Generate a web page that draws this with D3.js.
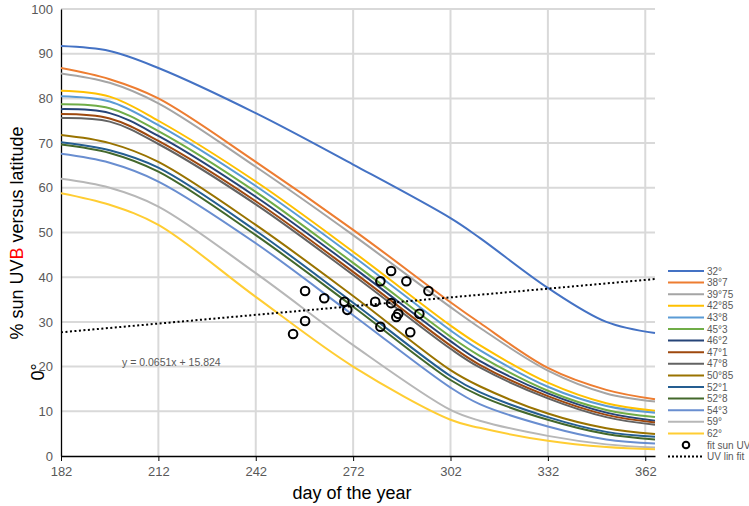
<!DOCTYPE html>
<html><head><meta charset="utf-8">
<script src="https://cdn.jsdelivr.net/npm/d3@7"></script>
<style>body{margin:0;background:#fff}svg{display:block}</style>
</head><body>
<svg id="c" width="749" height="506"></svg>
<script>
// ---- data ----
const days = [182, 197, 212, 242, 272, 302, 311, 332, 350, 365];
const lat32   = [91.7, 90.6, 86.8, 76.7, 65.2, 53.2, 48.8, 37.6, 30.0, 27.5];
const lat38_7 = [86.8, 84.3, 80.0, 65.8, 50.6, 34.4, 29.8, 19.7, 14.8, 12.7];
const lat39_75= [85.6, 83.5, 78.9, 64.7, 49.4, 33.3, 28.7, 19.1, 14.0, 12.2];
const lat42_85= [81.7, 80.4, 75.0, 61.4, 45.7, 29.2, 24.8, 16.4, 11.8, 10.1];
const lat43_8 = [80.5, 79.3, 74.0, 60.4, 44.7, 28.1, 23.7, 15.5, 11.2, 9.7];
const lat45_3 = [78.7, 77.8, 72.7, 59.1, 43.2, 26.7, 22.4, 14.6, 10.3, 8.7];
const lat46_2 = [77.6, 76.7, 71.6, 58.0, 42.2, 25.7, 21.3, 14.0, 9.7, 7.9];
const lat47_1 = [76.5, 75.5, 70.5, 57.0, 41.2, 24.7, 20.4, 13.4, 9.2, 7.5];
const lat47_8 = [75.6, 74.8, 69.8, 56.3, 40.5, 24.0, 19.8, 12.9, 8.7, 7.0];
const lat50_85= [71.8, 70.0, 65.8, 51.7, 35.8, 19.2, 15.6, 9.5, 6.2, 4.9];
const lat52_1 = [70.2, 68.4, 64.5, 50.4, 34.3, 17.9, 14.3, 8.7, 5.4, 4.3];
const lat52_8 = [69.7, 67.8, 63.6, 49.4, 33.4, 17.0, 13.5, 8.1, 4.9, 3.7];
const lat54_3 = [67.6, 65.6, 61.4, 47.6, 31.5, 15.3, 11.6, 6.6, 3.7, 2.8];
const lat59   = [62.0, 60.0, 55.8, 40.9, 24.8, 10.3, 7.9, 4.5, 2.6, 1.9];
const lat62   = [58.8, 56.2, 51.7, 35.6, 20.0, 8.1, 6.3, 3.4, 2.0, 1.5];

const seriesNames = ["32°","38°7","39°75","42°85","43°8","45°3","46°2","47°1","47°8","50°85","52°1","52°8","54°3","59°","62°"];
const seriesValues = [lat32, lat38_7, lat39_75, lat42_85, lat43_8, lat45_3, lat46_2, lat47_1, lat47_8, lat50_85, lat52_1, lat52_8, lat54_3, lat59, lat62];
const seriesColors = ["#4472C4","#ED7D31","#A5A5A5","#FFC000","#5B9BD5","#70AD47","#264478","#9E480E","#636363","#997300","#255E91","#43682B","#698ED0","#B7B7B7","#FFCD33"];

const fitDays   = [253.5, 257.2, 257.2, 263.1, 269.3, 270.2, 278.8, 280.4, 280.4, 283.7, 283.7, 285.9, 285.3, 288.4, 289.6, 292.4, 295.2];
const fitValues = [27.3, 36.9, 30.2, 35.3, 34.5, 32.7, 34.5, 39.1, 28.9, 41.4, 34.2, 31.8, 31.1, 39.1, 27.7, 31.8, 36.9];

const fitSlope = 0.0651, fitIntercept = 15.824;
const xTicks = [182, 212, 242, 272, 302, 332, 362];
const yTicks = [0,10,20,30,40,50,60,70,80,90,100];

// ---- drawing ----
const svg = d3.select("#c");
const font = "'Liberation Sans', Arial, sans-serif";
const x = d3.scaleLinear().domain([182, 365]).range([61, 655]);
const y = d3.scaleLinear().domain([0, 100]).range([456, 9]);

// gridlines
svg.append("g").selectAll("line").data(yTicks.slice(1)).join("line")
  .attr("x1", x(182)).attr("x2", x(365)).attr("y1", d => y(d)).attr("y2", d => y(d))
  .attr("stroke", "#D9D9D9").attr("stroke-width", 2);
svg.append("g").selectAll("line").data(xTicks.slice(1)).join("line")
  .attr("x1", d => x(d)).attr("x2", d => x(d)).attr("y1", y(0)).attr("y2", y(100))
  .attr("stroke", "#D9D9D9").attr("stroke-width", 2);

// axes
const xAxis = svg.append("g").attr("transform", `translate(0,${y(0)})`)
  .call(d3.axisBottom(x).tickValues(xTicks).tickSize(5).tickSizeOuter(0).tickPadding(6));
xAxis.select(".domain").attr("stroke", "#000").attr("stroke-width", 1.3);
xAxis.selectAll(".tick line").attr("stroke", "#000");
xAxis.selectAll("text").attr("font-family", font).attr("font-size", 13).attr("fill", "#595959");

const yAxis = svg.append("g").attr("transform", `translate(${x(182)},0)`)
  .call(d3.axisLeft(y).tickValues(yTicks).tickSize(0).tickSizeOuter(0).tickPadding(8));
yAxis.select(".domain").attr("stroke", "#000").attr("stroke-width", 1.3);
yAxis.selectAll("text").attr("font-family", font).attr("font-size", 13).attr("fill", "#595959");

// clip
svg.append("clipPath").attr("id", "clip").append("rect")
  .attr("x", x(182)).attr("y", y(100) - 2).attr("width", x(365) - x(182) + 2).attr("height", y(0) - y(100) + 2);

const line = d3.line().x((d, i) => x(days[i])).y(d => y(d)).curve(d3.curveCatmullRom.alpha(0.5));
const gLines = svg.append("g").attr("clip-path", "url(#clip)");
seriesValues.forEach((vals, k) => {
  gLines.append("path").attr("d", line(vals)).attr("fill", "none")
    .attr("stroke", seriesColors[k]).attr("stroke-width", 2).attr("stroke-linejoin", "round");
});

// regression line
gLines.append("line")
  .attr("x1", x(182)).attr("y1", y(fitSlope * 182 + fitIntercept))
  .attr("x2", x(365)).attr("y2", y(fitSlope * 365 + fitIntercept))
  .attr("stroke", "#000").attr("stroke-width", 2).attr("stroke-dasharray", "2,2.5");

// equation
svg.append("text").attr("x", 122).attr("y", 366).text("y = 0.0651x + 15.824")
  .attr("font-family", font).attr("font-size", 10.5).attr("fill", "#595959");

// fit points
svg.append("g").selectAll("circle").data(fitDays).join("circle")
  .attr("cx", d => x(d)).attr("cy", (d, i) => y(fitValues[i])).attr("r", 4.3)
  .attr("fill", "none").attr("stroke", "#000").attr("stroke-width", 2);

// axis titles
svg.append("text").attr("x", 352).attr("y", 499).attr("text-anchor", "middle")
  .attr("font-family", font).attr("font-size", 18).attr("fill", "#000").text("day of the year");

const yt = svg.append("text").attr("transform", "translate(23,233) rotate(-90)").attr("text-anchor", "middle")
  .attr("font-family", font).attr("font-size", 18).attr("fill", "#000");
yt.append("tspan").text("% sun UV");
yt.append("tspan").attr("fill", "#FF0000").text("B");
yt.append("tspan").text(" versus latitude");
svg.append("text").attr("transform", "translate(44,372) rotate(-90)").attr("text-anchor", "middle")
  .attr("font-family", font).attr("font-size", 18).attr("fill", "#000").text("0°");

// legend
const legY0 = 271, legStep = 11.6;
const leg = svg.append("g");
seriesNames.forEach((n, k) => {
  const yy = legY0 + k * legStep;
  leg.append("line").attr("x1", 668).attr("x2", 704).attr("y1", yy).attr("y2", yy)
    .attr("stroke", seriesColors[k]).attr("stroke-width", 2);
  leg.append("text").attr("x", 707).attr("y", yy + 3.5).text(n)
    .attr("font-family", font).attr("font-size", 10).attr("fill", "#595959");
});
const yFit = legY0 + 15 * legStep;
leg.append("circle").attr("cx", 686).attr("cy", yFit).attr("r", 3.3)
  .attr("fill", "none").attr("stroke", "#000").attr("stroke-width", 2);
leg.append("text").attr("x", 707).attr("y", yFit + 3.5).text("fit sun UV")
  .attr("font-family", font).attr("font-size", 10).attr("fill", "#595959");
const yLin = legY0 + 16 * legStep;
leg.append("line").attr("x1", 668).attr("x2", 704).attr("y1", yLin).attr("y2", yLin)
  .attr("stroke", "#000").attr("stroke-width", 2).attr("stroke-dasharray", "2,2");
leg.append("text").attr("x", 707).attr("y", yLin + 3.5).text("UV lin fit")
  .attr("font-family", font).attr("font-size", 10).attr("fill", "#595959");
</script>
</body></html>
